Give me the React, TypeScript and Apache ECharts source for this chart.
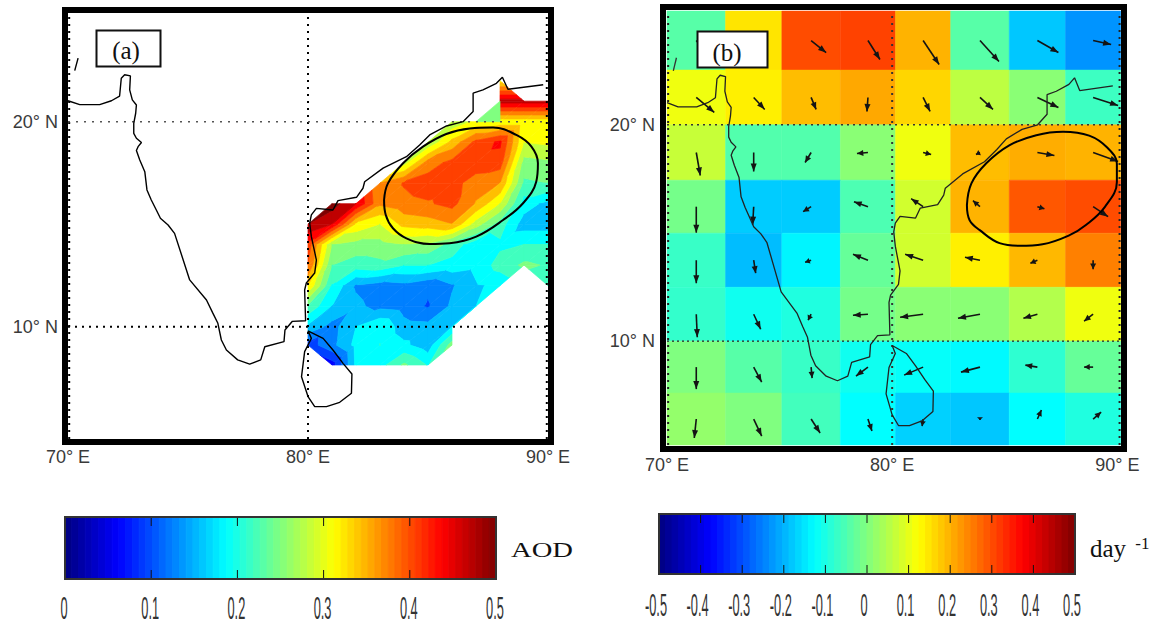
import React, { useEffect, useRef } from "react";
import * as echarts from "echarts";

// ---------- data ----------
const _ = null;
const aodLons = [80, 81, 82, 83, 84, 85, 86, 87, 88, 89, 90];
const aodLats = [22, 21, 20, 19, 18, 17, 16, 15, 14, 13, 12, 11, 10, 9.1, 8.13];
const aodRows: (number | null)[][] = [
  [_, _, _, _, _, _, _, _, 0.328, _, _],
  [_, _, _, _, _, _, _, _, 0.484, 0.484, 0.484],
  [_, _, _, _, _, _, 0.29, 0.319, 0.322, 0.322, 0.322],
  [_, _, _, _, _, 0.281, 0.353, 0.416, 0.444, 0.3125, 0.319],
  [_, _, _, _, 0.297, 0.39, 0.416, 0.425, 0.422, 0.269, 0.275],
  [_, _, _, 0.375, 0.409, 0.422, 0.419, 0.39, 0.375, 0.244, 0.25],
  [_, 0.516, 0.469, 0.381, 0.397, 0.403, 0.416, 0.372, 0.3125, 0.203, 0.178],
  [0.5, 0.469, 0.3375, 0.312, 0.353, 0.36, 0.374, 0.297, 0.234, 0.172, 0.172],
  [0.425, 0.281, 0.269, 0.269, 0.281, 0.272, 0.2375, 0.197, 0.2125, 0.219, 0.219],
  [0.406, 0.25, 0.234, 0.241, 0.219, 0.219, 0.206, 0.197, 0.231, 0.256, 0.247],
  [0.344, 0.216, 0.153, 0.141, 0.147, 0.131, 0.153, 0.184, 0.194, _, 0.225],
  [0.244, 0.1875, 0.1625, 0.147, 0.141, 0.122, 0.1625, 0.1875, _, _, _],
  [0.181, 0.144, 0.1875, 0.216, 0.169, 0.166, 0.1875, _, _, _, _],
  [0.109, 0.147, 0.197, 0.219, 0.194, 0.169, 0.266, _, _, _, _],
  [_, 0.078, 0.194, 0.206, 0.256, 0.216, _, _, _, _, _],
];
// a lone patch on the Bengal coast, one colour band, not part of the gridded surface
const aodPatch = [[87, 20], [88, 21], [88, 20]];
const aodPatchValue = 0.25;
const aodExcludedCell = [87, 20];

const cellLonEdges = [70, 72.6, 75.1, 77.7, 80.15, 82.6, 85.2, 87.7, 90.15];
const cellLatEdges = [25.26, 22.53, 20, 17.44, 14.99, 12.49, 10, 7.6, 5.2];
const growthRows = [
  [-0.04, 0.15, 0.3, 0.31, 0.2, -0.04, -0.18, -0.23],
  [0.11, 0.14, 0.19, 0.21, 0.165, 0.06, 0.01, -0.065],
  [0.07, -0.045, -0.045, 0.01, 0.11, 0.19, 0.205, 0.2],
  [-0.01, -0.175, -0.175, -0.05, 0.08, 0.2, 0.29, 0.3],
  [-0.07, -0.19, -0.135, -0.025, 0.08, 0.14, 0.195, 0.25],
  [-0.075, -0.11, -0.095, -0.01, 0.01, 0.01, 0.05, 0.11],
  [0, -0.04, -0.07, -0.11, -0.12, -0.13, -0.08, -0.025],
  [0.02, 0, -0.06, -0.125, -0.17, -0.18, -0.125, -0.095],
];
const windU = [
  [0.8, 1.4, 1.5, 1.2, 1.6, 1.9, 2.1, 1.8],
  [1.8, 1.1, 0.5, -0.1, 0.7, 1.3, 2.1, 2.5],
  [0.4, 0, -0.6, -1.1, 0.8, -0.4, 1.7, 2.5],
  [0, -0.1, -0.8, -1.4, -1.2, -0.7, 0.7, 1.5],
  [0, 0.2, -0.6, -1.5, -1.8, -1.5, -0.7, 0],
  [0.1, 0.7, -0.3, -1.5, -2.3, -2.2, -1.4, -0.9],
  [0, 0.8, 0.1, -1.2, -1.9, -1.9, -1.2, -0.9],
  [-0.2, 0.8, 0.9, 0.4, -0.1, 0, 0.4, 0.8],
];
const windV = [
  [-1, -0.2, -1.2, -1.9, -2.4, -2.1, -1.2, -0.4],
  [-1.5, -1.2, -1.2, -1.4, -1.4, -1.2, -1, -0.8],
  [-2.3, -1.9, -1, -0.1, -0.2, -0.2, -0.3, -0.9],
  [-2.6, -1.8, -0.5, 0.5, 0.8, 0.6, -0.2, -1],
  [-2.3, -1.3, -0.2, 0.6, 0.6, 0.3, -0.3, -0.9],
  [-2.3, -1.5, -0.6, -0.1, -0.3, -0.4, -0.4, -0.7],
  [-2.2, -1.5, -1.1, -0.9, -0.8, -0.5, 0.2, 0],
  [-1.9, -1.7, -1.4, -1.2, -0.7, -0.1, 0.9, 0.7],
];

const coastMain = [
  [70, 21.02], [70.49, 20.83], [71.32, 20.83], [71.81, 21.02], [72.15, 21.25], [72.22, 22.12], [72.36, 22.29],
  [72.6, 22.23], [72.57, 21.55], [72.68, 21.06], [72.85, 20.81], [72.82, 20.41], [72.74, 19.92], [72.74, 19.43],
  [72.85, 19.19], [73.06, 18.98], [72.92, 18.78], [72.85, 18.59], [72.99, 18.13], [73.2, 17.56], [73.29, 16.67],
  [73.47, 16.18], [73.68, 15.69], [73.85, 15.29], [74.17, 14.96], [74.44, 14.55], [75.07, 12.28], [75.77, 11.3],
  [76.03, 10.67], [76.24, 10.18], [76.39, 9.35], [76.6, 8.86], [77.07, 8.38], [77.57, 8.17], [78.03, 8.38],
  [78.2, 9.02], [79, 9.27], [79.04, 9.84], [79.35, 10.26], [79.9, 10.29], [79.86, 11.79], [79.93, 12.13],
  [80.28, 12.62], [80.35, 13.25], [80.14, 14.39], [80.07, 15.05], [80.14, 15.45], [80.35, 15.77], [81.04, 15.69],
  [81.25, 16.15], [82.02, 16.31], [82.29, 16.75], [82.36, 17.07], [83.13, 17.73], [84.1, 18.29], [84.65, 18.86],
  [85.07, 19.35], [85.77, 19.79], [86.46, 20], [86.88, 20.49], [86.88, 21.39], [87.29, 21.55], [87.85, 21.87],
  [88.1, 22.17], [88.33, 21.58], [89.8, 21.8],
];
const coastGujarat = [[70.42, 23.1], [70.28, 22.49]];
const coastLanka = [
  [80, 9.8], [80.63, 9.43], [81.04, 8.86], [81.46, 8.21], [81.83, 7.69], [81.81, 6.75], [81.32, 6.31], [80.77, 6.1],
  [80.28, 6.1], [80, 6.59], [79.73, 7.56], [79.86, 8.78], [80.14, 9.43], [80, 9.8],
];
const ellipseA = [
  [83.17, 16.18], [83.33, 16.99], [83.96, 17.97], [84.79, 18.78], [85.76, 19.4], [86.74, 19.67], [87.71, 19.71],
  [88.68, 19.35], [89.31, 18.78], [89.58, 17.97], [89.51, 17.07], [88.96, 16.02], [88.13, 15.2], [87.01, 14.39],
  [85.9, 14.07], [85.07, 14.03], [84.1, 14.31], [83.54, 14.8], [83.24, 15.45], [83.17, 16.18],
];
const ellipseB = [
  [83.32, 16.29], [83.52, 17.29], [84.18, 18.22], [85.22, 19.06], [86.4, 19.52], [87.59, 19.68], [88.75, 19.5],
  [89.55, 18.95], [89.98, 18.2], [89.98, 17.36], [89.45, 16.21], [88.62, 15.38], [87.88, 14.9], [86.68, 14.48],
  [85.66, 14.41], [84.77, 14.53], [83.89, 15.13], [83.44, 15.59], [83.32, 16.29],
];

const lonTicks = [70, 80, 90];
const latTicks = [10, 20];
const aodBarTicks = [0, 0.1, 0.2, 0.3, 0.4, 0.5];
const aodBarLabels = ["0", "0.1", "0.2", "0.3", "0.4", "0.5"];
const growthBarTicks = [-0.5, -0.4, -0.3, -0.2, -0.1, 0, 0.1, 0.2, 0.3, 0.4, 0.5];
const growthBarLabels = ["-0.5", "-0.4", "-0.3", "-0.2", "-0.1", "0", "0.1", "0.2", "0.3", "0.4", "0.5"];

// ---------- helpers ----------
const clamp = (x: number) => Math.max(0, Math.min(1, x));
function jet(t: number) {
  const r = clamp(Math.min(4 * t - 1.5, -4 * t + 4.5));
  const g = clamp(Math.min(4 * t - 0.5, -4 * t + 3.5));
  const b = clamp(Math.min(4 * t + 0.5, -4 * t + 2.5));
  return `rgb(${Math.round(r * 255)},${Math.round(g * 255)},${Math.round(b * 255)})`;
}
const AOD_MAX = 0.5;
const BANDS = 16;

type P = [number, number, number];
function clipAbove(poly: P[], level: number, keepAbove: boolean): P[] {
  const out: P[] = [];
  for (let i = 0; i < poly.length; i++) {
    const a = poly[i];
    const b = poly[(i + 1) % poly.length];
    const ina = keepAbove ? a[2] >= level : a[2] <= level;
    const inb = keepAbove ? b[2] >= level : b[2] <= level;
    if (ina) out.push(a);
    if (ina !== inb) {
      const t = (level - a[2]) / (b[2] - a[2]);
      out.push([a[0] + t * (b[0] - a[0]), a[1] + t * (b[1] - a[1]), level]);
    }
  }
  return out;
}
function bandPolygons() {
  const result: { pts: number[][]; fill: string }[] = [];
  const node = (r: number, c: number): P | null => {
    const v = aodRows[r][c];
    return v == null ? null : [aodLons[c], aodLats[r], (v / AOD_MAX) * BANDS];
  };
  const addTri = (tri: P[]) => {
    const vs = tri.map((p) => p[2]);
    const lo = Math.floor(Math.min(...vs));
    const hi = Math.floor(Math.max(...vs));
    for (let k = lo; k <= hi; k++) {
      let poly = clipAbove(tri, k, true);
      if (poly.length) poly = clipAbove(poly, k + 1, false);
      if (poly.length >= 3) {
        result.push({ pts: poly.map((p) => [p[0], p[1]]), fill: jet(Math.min(k, BANDS) / BANDS) });
      }
    }
  };
  for (let r = 0; r < aodLats.length - 1; r++) {
    for (let c = 0; c < aodLons.length - 1; c++) {
      if (aodLons[c] === aodExcludedCell[0] && aodLats[r + 1] === aodExcludedCell[1]) continue;
      const nw = node(r, c), ne = node(r, c + 1), sw = node(r + 1, c), se = node(r + 1, c + 1);
      const n = [nw, ne, sw, se].filter(Boolean) as P[];
      if (n.length < 3) continue;
      if (n.length === 3) addTri(n);
      else {
        addTri([sw!, ne!, nw!]);
        addTri([sw!, se!, ne!]);
      }
    }
  }
  result.push({ pts: aodPatch, fill: jet((aodPatchValue / AOD_MAX)) });
  return result;
}

const polygons = bandPolygons();

function polygonSeries(xi: number) {
  return {
    type: "custom",
    xAxisIndex: xi,
    yAxisIndex: xi,
    silent: true,
    clip: true,
    data: polygons.map((_p, i) => [i]),
    renderItem: (_: any, api: any) => {
      const p = polygons[api.value(0)];
      return {
        type: "polygon",
        shape: { points: p.pts.map((q) => api.coord(q)) },
        style: { fill: p.fill, stroke: p.fill, lineWidth: 0.7 },
      };
    },
  };
}

function cellSeries(xi: number) {
  const data: number[][] = [];
  growthRows.forEach((row, r) => row.forEach((v, c) => data.push([c, r, v])));
  return {
    type: "custom",
    xAxisIndex: xi,
    yAxisIndex: xi,
    silent: true,
    data,
    renderItem: (_: any, api: any) => {
      const c = api.value(0), r = api.value(1), v = api.value(2);
      const a = api.coord([cellLonEdges[c], cellLatEdges[r]]);
      const b = api.coord([cellLonEdges[c + 1], cellLatEdges[r + 1]]);
      const fill = jet(v + 0.5);
      return {
        type: "rect",
        shape: { x: a[0], y: a[1], width: b[0] - a[0], height: b[1] - a[1] },
        style: { fill, stroke: fill, lineWidth: 0.5 },
      };
    },
  };
}

function arrowSeries(xi: number) {
  const data: number[][] = [];
  windU.forEach((row, r) => row.forEach((u, c) => data.push([c, r, u, windV[r][c]])));
  const ink = "#141414";
  return {
    type: "custom",
    xAxisIndex: xi,
    yAxisIndex: xi,
    silent: true,
    data,
    renderItem: (_: any, api: any) => {
      const c = api.value(0), r = api.value(1);
      const lon = (cellLonEdges[c] + cellLonEdges[c + 1]) / 2;
      const lat = (cellLatEdges[r] + cellLatEdges[r + 1]) / 2;
      const t = api.coord([lon, lat]);
      const dx = api.value(2) * 10, dy = -api.value(3) * 10;
      const len = Math.hypot(dx, dy) || 1;
      const ux = dx / len, uy = dy / len;
      const h = [t[0] + dx, t[1] + dy];
      const hl = Math.min(8, 2.5 + len * 0.35), hw = 3;
      const bx = h[0] - ux * hl, by = h[1] - uy * hl;
      return {
        type: "group",
        children: [
          { type: "line", shape: { x1: t[0], y1: t[1], x2: h[0], y2: h[1] }, style: { stroke: ink, lineWidth: 1.6 } },
          {
            type: "polygon",
            shape: { points: [h, [bx - uy * hw, by + ux * hw], [bx + uy * hw, by - ux * hw]] },
            style: { fill: ink },
          },
        ],
      };
    },
  };
}

function lineSeries(xi: number, data: number[][], opts: any = {}) {
  return {
    type: "line",
    xAxisIndex: xi,
    yAxisIndex: xi,
    data,
    symbol: "none",
    silent: true,
    clip: false,
    smooth: opts.smooth ?? false,
    lineStyle: { color: opts.color ?? "#000", width: opts.width ?? 1.3, type: opts.type ?? "solid" },
  };
}

function barSeries(xi: number, lo: number, hi: number) {
  const n = 64;
  const idx = Array.from({ length: n }, (_v, i) => [i]);
  return {
    type: "custom",
    xAxisIndex: xi,
    yAxisIndex: xi,
    silent: true,
    data: idx,
    renderItem: (_: any, api: any) => {
      const i = api.value(0);
      const a = api.coord([lo + ((hi - lo) * i) / n, 1]);
      const b = api.coord([lo + ((hi - lo) * (i + 1)) / n, 0]);
      const fill = jet((i + 0.5) / n);
      return {
        type: "rect",
        shape: { x: a[0], y: a[1], width: b[0] - a[0], height: b[1] - a[1] },
        style: { fill, stroke: fill, lineWidth: 0.9 },
      };
    },
  };
}

function barTickSeries(xi: number, ticks: number[], labels: string[], labelDy: number, labelDx: number) {
  return {
    type: "custom",
    xAxisIndex: xi,
    yAxisIndex: xi,
    silent: true,
    clip: false,
    data: ticks.map((t, i) => [t, i]),
    renderItem: (_: any, api: any) => {
      const v = api.value(0);
      const b = api.coord([v, 0]);
      const t = api.coord([v, 1]);
      return {
        type: "group",
        children: [
          { type: "line", shape: { x1: b[0], y1: t[1], x2: b[0], y2: t[1] + 9 }, style: { stroke: "#111", lineWidth: 1 } },
          { type: "line", shape: { x1: b[0], y1: b[1], x2: b[0], y2: b[1] - 9 }, style: { stroke: "#111", lineWidth: 1 } },
          {
            type: "text",
            x: b[0] + labelDx,
            y: b[1] + labelDy,
            scaleX: 0.4,
            style: {
              text: labels[api.value(1)],
              fontSize: 32,
              fontFamily: "Liberation Sans",
              fill: "#333",
              align: "center",
              verticalAlign: "middle",
            },
          },
        ],
      };
    },
  };
}

const degLabel = (suffix: string) => (v: number) => `${v}° ${suffix}`;

function mapAxes(gridIndex: number, xMin: number, xMax: number, yMin: number, yMax: number, xMargin: number, yMargin: number) {
  const label = { color: "#3a3a3a", fontSize: 18, fontFamily: "Liberation Sans" };
  return {
    x: {
      type: "value",
      gridIndex,
      min: xMin,
      max: xMax,
      splitLine: { show: false },
      axisLine: { show: false },
      axisTick: { show: false },
      axisLabel: { ...label, customValues: lonTicks, margin: xMargin, formatter: degLabel("E"), showMaxLabel: true },
    },
    y: {
      type: "value",
      gridIndex,
      min: yMin,
      max: yMax,
      splitLine: { show: false },
      axisLine: { show: false },
      axisTick: { show: false },
      axisLabel: { ...label, customValues: latTicks, margin: yMargin, formatter: degLabel("N") },
    },
  };
}

function barAxes(gridIndex: number, lo: number, hi: number) {
  return {
    x: {
      type: "value", gridIndex, min: lo, max: hi,
      splitLine: { show: false }, axisLine: { show: false }, axisTick: { show: false }, axisLabel: { show: false },
    },
    y: {
      type: "value", gridIndex, min: 0, max: 1,
      splitLine: { show: false }, axisLine: { show: false }, axisTick: { show: false }, axisLabel: { show: false },
    },
  };
}

const frame = (x: number, y: number, width: number, height: number, lineWidth: number, stroke = "#000", fill: any = "transparent") => ({
  type: "rect",
  z: 100,
  silent: true,
  shape: { x, y, width, height },
  style: { fill, stroke, lineWidth },
});

const serifText = (x: number, y: number, text: string, fontSize: number, scaleX = 1, align = "center") => ({
  type: "text",
  z: 101,
  silent: true,
  x,
  y,
  scaleX,
  style: { text, fontSize, fontFamily: "Liberation Serif", fill: "#111", align, verticalAlign: "middle" },
});

export default function App() {
  const ref = useRef<HTMLDivElement>(null);
  useEffect(() => {
    const chart = echarts.init(ref.current!, undefined, { renderer: "svg" });
    const A = mapAxes(0, 70, 90, 4.52, 25.3, 9, 10);
    const B = mapAxes(1, 70, 90.15, 5.2, 25.26, 11, 12);
    const C = barAxes(2, 0, 0.5);
    const D = barAxes(3, -0.5, 0.5);

    const dotA = [2, 5];
    const aY = [4.52, 25.3];
    const bY = [5.2, 25.26];
    chart.setOption({
      animation: false,
      backgroundColor: "#fff",
      grid: [
        { left: 68, top: 13, width: 480, height: 426 },
        { left: 667, top: 11, width: 453.7, height: 434 },
        { left: 65, top: 517, width: 431, height: 62 },
        { left: 659, top: 514, width: 416, height: 60 },
      ],
      xAxis: [A.x, B.x, C.x, D.x],
      yAxis: [A.y, B.y, C.y, D.y],
      series: [
        polygonSeries(0),
        lineSeries(0, [[70.05, aY[0]], [70.05, aY[1]]], { type: dotA, width: 2 }),
        lineSeries(0, [[89.95, aY[0]], [89.95, aY[1]]], { type: dotA, width: 2 }),
        lineSeries(0, [[80, aY[0]], [80, aY[1]]], { type: dotA, width: 2 }),
        lineSeries(0, [[70, 20], [90, 20]], { type: [2, 6], width: 1.5, color: "#555" }),
        lineSeries(0, [[70, 10], [90, 10]], { type: dotA, width: 2 }),
        lineSeries(0, coastMain, { width: 1.4 }),
        lineSeries(0, coastGujarat, { width: 1.4 }),
        lineSeries(0, coastLanka, { width: 1.4 }),
        lineSeries(0, ellipseA, { width: 2, smooth: 0.4 }),

        cellSeries(1),
        lineSeries(1, [[70.05, bY[0]], [70.05, bY[1]]], { type: [2, 5], width: 2, color: "#222" }),
        lineSeries(1, [[90.1, bY[0]], [90.1, bY[1]]], { type: [2, 5], width: 2, color: "#222" }),
        lineSeries(1, [[80, bY[0]], [80, bY[1]]], { type: [2, 5], width: 2, color: "#333" }),
        lineSeries(1, [[70, 20], [90.15, 20]], { type: [2, 4], width: 1.6, color: "#333" }),
        lineSeries(1, [[70, 10], [90.15, 10]], { type: [2, 3], width: 1.1, color: "#222" }),
        lineSeries(1, coastMain, { width: 1.3, color: "#222" }),
        lineSeries(1, coastGujarat, { width: 1.3, color: "#333" }),
        lineSeries(1, coastLanka, { width: 1.3, color: "#222" }),
        arrowSeries(1),
        lineSeries(1, ellipseB, { width: 2, smooth: 0.4 }),

        barSeries(2, 0, 0.5),
        barTickSeries(2, aodBarTicks, aodBarLabels, 29, -1),
        barSeries(3, -0.5, 0.5),
        barTickSeries(3, growthBarTicks, growthBarLabels, 31, -3),
      ],
      graphic: [
        frame(65, 10, 486, 432, 6),
        frame(663, 7, 461, 442, 6),
        frame(65, 517, 431, 62, 2, "#333"),
        frame(659, 514, 416, 60, 2, "#333"),
        frame(96.5, 30.5, 64, 36, 2, "#111", "#fff"),
        frame(697.5, 31.5, 70, 36, 2, "#111", "#fff"),
        serifText(126, 50, "(a)", 25),
        serifText(727, 52, "(b)", 25),
        serifText(511, 550, "AOD", 22, 1.3, "left"),
        {
          type: "text",
          z: 101,
          silent: true,
          x: 1090,
          y: 548,
          style: {
            text: "{a|day }{b|-1}",
            verticalAlign: "middle",
            fill: "#111",
            fontFamily: "Liberation Serif",
            rich: {
              a: { fontSize: 25, fontFamily: "Liberation Serif", fill: "#111" },
              b: { fontSize: 17, fontFamily: "Liberation Serif", fill: "#111", padding: [0, 0, 10, 3] },
            },
          },
        },
      ],
    });
    return () => chart.dispose();
  }, []);
  return <div ref={ref} style={{ position: "absolute", left: 0, top: 0, width: 1161, height: 625 }} />;
}
